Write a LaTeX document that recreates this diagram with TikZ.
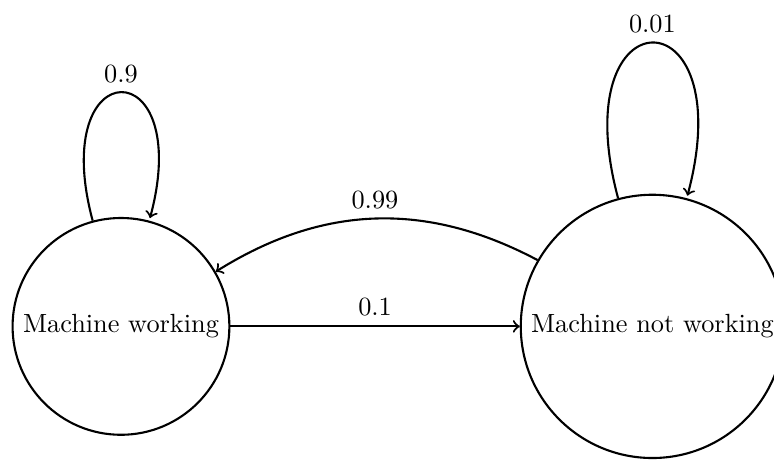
\documentclass[tikz,border=0pt]{standalone}
\usepackage{amsmath}
\usepackage{tikz}
\usetikzlibrary{
        automata,
        arrows,
        positioning
    }
\tikzset{>=to,auto,node distance=2cm}

\begin{document}
\begin{tikzpicture}[->,thick]
                \useasboundingbox (-46pt,-50.8pt) rectangle (248.3pt,124.1pt);
                \node[state] (work) at (0,0) {Machine working};
                \node[state,right=110pt of work] (broken) {Machine not working};
                \path (work) edge[loop above] node {0.9} (work)
                             edge node {0.1} (broken)
                      (broken) edge[loop above] node {0.01} (broken)
                               edge[bend right] node[swap] {0.99} (work);
            \end{tikzpicture}
\end{document}
